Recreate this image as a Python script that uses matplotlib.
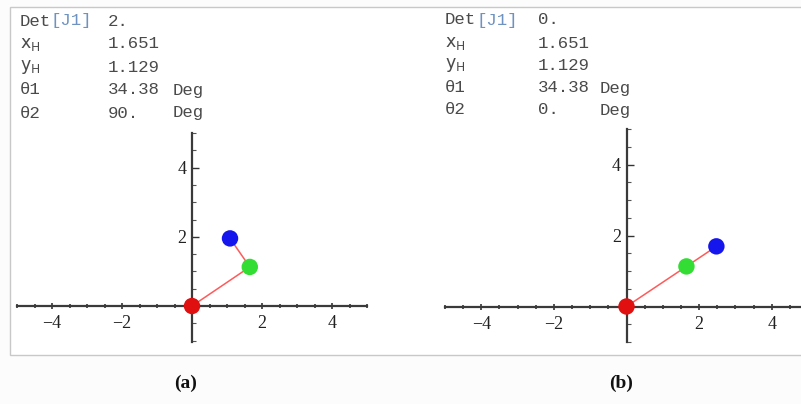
import matplotlib
matplotlib.use("Agg")
import matplotlib.pyplot as plt
from matplotlib.patches import Rectangle
from matplotlib.ticker import MultipleLocator, FixedLocator

# ---- data ----
panel_labels = ["(a)", "(b)"]
det_values = ["2.", "0."]
xh_values = ["1.651", "1.651"]
yh_values = ["1.129", "1.129"]
theta1_values = ["34.38", "34.38"]
theta2_values = ["90.", "0."]
# joint positions: base (red), elbow (green), end effector (blue)
joints_x_a = [0.0, 1.651, 1.086]
joints_y_a = [0.0, 1.129, 1.954]
joints_x_b = [0.0, 1.651, 2.476]
joints_y_b = [0.0, 1.129, 1.694]
joint_colors = ["#e01010", "#33dd33", "#1515ee"]
x_tick_values = [-4, -2, 2, 4]
y_tick_values = [2, 4]

W, H = 801, 404
plt.rcParams["mathtext.fontset"] = "custom"
plt.rcParams["mathtext.rm"] = "Liberation Mono"
plt.rcParams["mathtext.it"] = "Liberation Mono"

fig = plt.figure(figsize=(W / 100, H / 100), dpi=100)
fig.patch.set_facecolor("#fcfcfc")

def fx(px):
    return px / W

def fy(py):
    return 1 - py / H

# panel frame
fig.patches.append(Rectangle((fx(10), fy(355)), fx(820) - fx(10), fy(7) - fy(355),
                             transform=fig.transFigure, facecolor="white",
                             edgecolor="#c8c8c8", lw=1.0, zorder=-5))

txt_color = "#4a4a4a"
mono = "Liberation Mono"

def info_block(x1, x2, x3, rows_y, i):
    fs = 12.5
    kw = dict(fontsize=fs, color=txt_color, va="center")
    fig.text(fx(x1), fy(rows_y[0]), "Det", family=mono, **kw)
    fig.text(fx(x1 + 31), fy(rows_y[0]), "[J1]", family=mono, fontsize=fs, color="#6f93c0", va="center")
    fig.text(fx(x2), fy(rows_y[0]), det_values[i], family=mono, **kw)
    fig.text(fx(x1), fy(rows_y[1]), r"$\mathregular{x_H}$", **kw)
    fig.text(fx(x2), fy(rows_y[1]), xh_values[i], family=mono, **kw)
    fig.text(fx(x1), fy(rows_y[2]), r"$\mathregular{y_H}$", **kw)
    fig.text(fx(x2), fy(rows_y[2]), yh_values[i], family=mono, **kw)
    fig.text(fx(x1), fy(rows_y[3]), "θ1", family=mono, **kw)
    fig.text(fx(x2), fy(rows_y[3]), theta1_values[i], family=mono, **kw)
    fig.text(fx(x3), fy(rows_y[3]), "Deg", family=mono, **kw)
    fig.text(fx(x1), fy(rows_y[4]), "θ2", family=mono, **kw)
    fig.text(fx(x2), fy(rows_y[4]), theta2_values[i], family=mono, **kw)
    fig.text(fx(x3), fy(rows_y[4]), "Deg", family=mono, **kw)

info_block(20, 108, 173, [21, 44, 67, 90, 113], 0)
info_block(445, 538, 600, [20, 43, 65, 88, 110], 1)

def make_axes(left_px, right_px, top_px, bottom_px, xlim, ylim, jx, jy):
    ax = fig.add_axes([fx(left_px), fy(bottom_px), fx(right_px) - fx(left_px), fy(top_px) - fy(bottom_px)])
    ax.set_zorder(2)
    ax.set_xlim(*xlim)
    ax.set_ylim(*ylim)
    ax.patch.set_alpha(0)
    for s in ["top", "right"]:
        ax.spines[s].set_visible(False)
    ax.spines["left"].set_position(("data", 0))
    ax.spines["bottom"].set_position(("data", 0))
    for s in ["left", "bottom"]:
        ax.spines[s].set_color("#3a3a3a")
        ax.spines[s].set_linewidth(1.6)
    ax.xaxis.set_major_locator(FixedLocator(x_tick_values))
    ax.yaxis.set_major_locator(FixedLocator(y_tick_values))
    ax.xaxis.set_minor_locator(MultipleLocator(0.5))
    ax.yaxis.set_minor_locator(MultipleLocator(0.5))
    ax.set_xticklabels(["\u22124", "\u22122", "2", "4"])
    ax.set_yticklabels(["2", "4"])
    ax.tick_params(axis="x", which="major", direction="inout", length=5, width=1.2, color="#333333",
                   pad=4, labelsize=13, labelcolor="#222222")
    ax.tick_params(axis="x", which="minor", direction="inout", length=3, width=1.2, color="#333333")
    ax.tick_params(axis="y", which="major", direction="in", length=5, width=1.0, color="#333333",
                   pad=4, labelsize=13, labelcolor="#222222")
    ax.tick_params(axis="y", which="minor", direction="in", length=3, width=0.8, color="#555555")
    for lab in ax.get_xticklabels() + ax.get_yticklabels():
        lab.set_family("Liberation Serif")
    ax.plot(jx, jy, color="#ff5a5a", lw=1.1, zorder=3, clip_on=False)
    ax.scatter(jx, jy, s=140, c=joint_colors, zorder=4, clip_on=False, edgecolors="none")
    return ax

make_axes(17, 367, 133, 342, (-5, 5), (-1.04, 5.0), joints_x_a, joints_y_a)
make_axes(445, 808, 129, 342, (-5, 5), (-1.0, 5.0), joints_x_b, joints_y_b)

fig.text(fx(186), fy(383), panel_labels[0], family="Liberation Serif", fontweight="bold",
         fontsize=14, ha="center", va="center", color="#111111")
fig.text(fx(621), fy(383), panel_labels[1], family="Liberation Serif", fontweight="bold",
         fontsize=14, ha="center", va="center", color="#111111")

fig.savefig("out.png", dpi=100, facecolor=fig.get_facecolor())
